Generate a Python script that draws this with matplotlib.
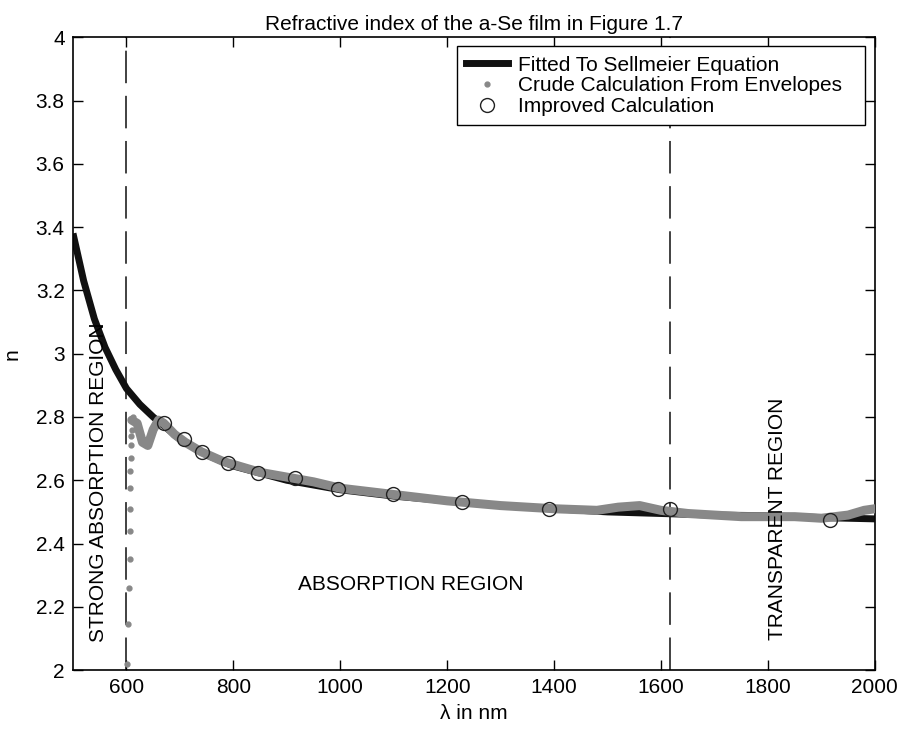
import matplotlib
matplotlib.use('Agg')
import matplotlib.pyplot as plt
from matplotlib.lines import Line2D

plt.rcParams['font.family'] = ['Liberation Sans', 'DejaVu Sans']
plt.rcParams['font.size'] = 15

# Sellmeier fit
fit_wl = [500, 520, 540, 560, 580, 600, 625, 650, 700, 750, 800, 900, 1000,
          1100, 1200, 1300, 1400, 1500, 1600, 1700, 1800, 1900, 2000]
fit_n = [3.38, 3.23, 3.11, 3.02, 2.95, 2.89, 2.84, 2.80, 2.73, 2.68, 2.645,
         2.60, 2.57, 2.55, 2.535, 2.52, 2.51, 2.50, 2.495, 2.49, 2.488, 2.482, 2.478]

# crude calculation, dense band part
crude_wl = [610, 620, 630, 640, 650, 660, 670, 690, 710, 740, 780, 850, 900, 950,
            1000, 1050, 1100, 1200, 1300, 1400, 1480, 1520, 1560, 1600, 1650,
            1700, 1750, 1800, 1850, 1900, 1950, 1980, 2000]
crude_n = [2.79, 2.78, 2.72, 2.71, 2.76, 2.79, 2.78, 2.745, 2.72, 2.69, 2.66,
           2.625, 2.61, 2.595, 2.575, 2.565, 2.555, 2.535, 2.52, 2.51, 2.505,
           2.515, 2.52, 2.505, 2.495, 2.49, 2.485, 2.485, 2.485, 2.48, 2.49,
           2.505, 2.51]

# crude calculation, scattered dots near the absorption edge
dots_wl = [601, 603, 605, 606, 606, 606, 607, 607, 608, 608, 609, 610, 612]
dots_n = [2.02, 2.145, 2.26, 2.35, 2.44, 2.51, 2.575, 2.63, 2.67, 2.71, 2.74, 2.76, 2.80]

# improved calculation
imp_wl = [671, 707, 742, 790, 846, 916, 996, 1098, 1227, 1391, 1617, 1917]
imp_n = [2.78, 2.73, 2.69, 2.654, 2.622, 2.607, 2.572, 2.556, 2.53, 2.51, 2.508, 2.474]

region_edges = [600, 1617]

fig = plt.figure(figsize=(9.01, 7.30), dpi=100)
ax = fig.add_axes([0.081, 0.082, 0.890, 0.867])

ax.plot(fit_wl, fit_n, color='#111111', lw=5, solid_capstyle='butt', zorder=2)
ax.plot(crude_wl, crude_n, color='#888888', lw=6.5, solid_capstyle='round', zorder=3)
ax.plot(dots_wl, dots_n, '.', color='#888888', ms=7, zorder=3)
ax.plot(imp_wl, imp_n, 'o', mfc='none', mec='#222222', ms=10, mew=1, zorder=4)

for xe in region_edges:
    ax.axvline(xe, color='#333333', lw=1.3, dashes=(18, 7), zorder=1)

ax.text(548, 2.595, 'STRONG ABSORPTION REGION', rotation=90, ha='center', va='center')
ax.text(1131, 2.27, 'ABSORPTION REGION', ha='center', va='center')
ax.text(1817, 2.477, 'TRANSPARENT REGION', rotation=90, ha='center', va='center')

ax.set_xlim(500, 2000)
ax.set_ylim(2, 4)
ax.set_xticks(range(600, 2001, 200))
ax.set_yticks([2, 2.2, 2.4, 2.6, 2.8, 3, 3.2, 3.4, 3.6, 3.8, 4])
ax.set_yticklabels(['2', '2.2', '2.4', '2.6', '2.8', '3', '3.2', '3.4', '3.6', '3.8', '4'])
ax.tick_params(direction='in', top=True, right=True, length=7, width=1, labelsize=15, pad=6)
for s in ax.spines.values():
    s.set_linewidth(1.2)

ax.set_xlabel('\u03bb in nm', labelpad=5)
ax.set_ylabel('n', labelpad=10)
ax.set_title('Refractive index of the a-Se film in Figure 1.7', fontsize=15, pad=5)

handles = [
    Line2D([], [], color='#111111', lw=5),
    Line2D([], [], ls='none', marker='.', color='#888888', ms=7),
    Line2D([], [], ls='none', marker='o', mfc='none', mec='#222222', ms=10, mew=1),
]
labels = ['Fitted To Sellmeier Equation', 'Crude Calculation From Envelopes', 'Improved Calculation']
leg = ax.legend(handles, labels, loc='upper left', bbox_to_anchor=(0.479, 0.0, 0.5085, 0.9858),
                mode='expand', fancybox=False, edgecolor='black', framealpha=1,
                handlelength=2.0, handletextpad=0.45, borderpad=0.45,
                labelspacing=0.08, borderaxespad=0)
leg.get_frame().set_linewidth(1)

fig.savefig('out.png', dpi=100)
